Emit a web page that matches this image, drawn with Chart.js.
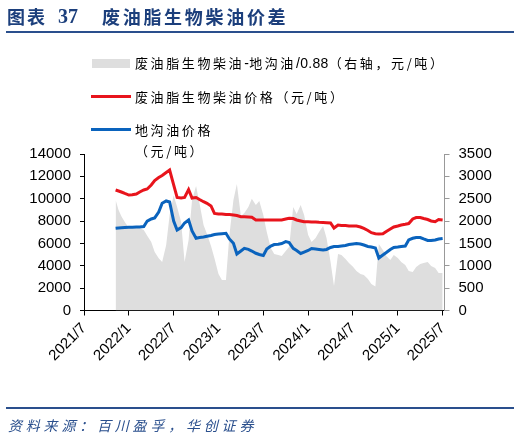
<!DOCTYPE html>
<html>
<head>
<meta charset="utf-8">
<script src="https://cdn.jsdelivr.net/npm/chart.js@4.4.1/dist/chart.umd.min.js"></script>
<style>
body{margin:0;background:#fff}
#wrap{position:relative;width:520px;height:439px;overflow:hidden;font-family:"Noto Sans CJK SC","Noto Sans",sans-serif}
#myChart{position:absolute;left:0;top:0}
.t{position:absolute;white-space:nowrap}
.title{color:#1c3f7c;font-weight:bold;font-size:18px;line-height:20px;top:6px}
.rule{position:absolute;left:6px;width:508px;height:2px;background:#2a4f8d}
.lg{font-size:13px;letter-spacing:2.6px;color:#000;line-height:16px}
.lat{font-family:"Liberation Sans",Arial,sans-serif;font-size:14px;letter-spacing:0.3px}
.src{color:#2a4f8d;font-style:italic;font-size:14px;letter-spacing:3.8px;line-height:18px;left:8px;top:416px}
</style>
</head>
<body>
<div id="wrap">
  <canvas id="myChart" width="520" height="439"></canvas>
  <div class="t title" style="left:7px;letter-spacing:2px">图表</div>
  <div class="t title" style="left:58px;font-family:'Liberation Serif',serif;font-size:20px">37</div>
  <div class="t title" style="left:102px;letter-spacing:2.7px">废油脂生物柴油价差</div>
  <div class="rule" style="top:31px"></div>

  <div class="t" style="left:92px;top:59px;width:38px;height:9px;background:#dedede"></div>
  <div class="t lg" style="left:135px;top:55px">废油脂生物柴油<span class="lat">-</span>地沟油<span class="lat">/0.88</span>（右轴，元/吨）</div>
  <div class="t" style="left:91px;top:95px;width:40px;height:3px;background:#e8141c"></div>
  <div class="t lg" style="left:135px;top:89px">废油脂生物柴油价格（元/吨）</div>
  <div class="t" style="left:91px;top:128px;width:40px;height:3px;background:#0a63bd"></div>
  <div class="t lg" style="left:135px;top:122px">地沟油价格</div>
  <div class="t lg" style="left:135px;top:143px">（元/吨）</div>

  <div class="rule" style="top:407px"></div>
  <div class="t src">资料来源：百川盈孚，华创证券</div>
</div>
<script>
const tickLabels=["2021/7","2022/1","2022/7","2023/1","2023/7","2024/1","2024/7","2025/1","2025/7"]

const dates=["2021-11-08","2021-11-20","2021-12-01","2021-12-15",
"2022-01-01","2022-01-15","2022-02-01","2022-02-15","2022-03-01","2022-03-15","2022-04-01","2022-04-15",
"2022-05-01","2022-05-15","2022-06-01","2022-06-15","2022-07-01","2022-07-15","2022-08-01","2022-08-15",
"2022-09-01","2022-09-15","2022-10-01","2022-10-15","2022-11-01","2022-11-15","2022-12-01","2022-12-15",
"2023-01-01","2023-01-15","2023-02-01","2023-02-15","2023-03-01","2023-03-15","2023-04-01","2023-04-15",
"2023-05-01","2023-05-15","2023-06-01","2023-06-15","2023-07-01","2023-07-15","2023-08-01","2023-08-15",
"2023-09-01","2023-09-15","2023-10-01","2023-10-15","2023-11-01","2023-11-15","2023-12-01","2023-12-15",
"2024-01-01","2024-01-15","2024-02-01","2024-02-15","2024-03-01","2024-03-15","2024-04-01","2024-04-15",
"2024-05-01","2024-05-15","2024-06-01","2024-06-15","2024-07-01","2024-07-15","2024-08-01","2024-08-15",
"2024-09-01","2024-09-15","2024-10-01","2024-10-15","2024-11-01","2024-11-15","2024-12-01","2024-12-15",
"2025-01-01","2025-01-15","2025-02-01","2025-02-15","2025-03-01","2025-03-15","2025-04-01","2025-04-15",
"2025-05-01","2025-05-15","2025-06-01","2025-06-15","2025-07-01"]

// 废油脂生物柴油价格 (元/吨, left axis)
const biodiesel=[10780,10690,10600,10470,
10330,10350,10420,10600,10780,10870,11230,11630,
11900,12080,12350,12570,11230,10110,10060,10110,
10820,10060,10110,9930,9730,9590,9350,8680,
8630,8630,8590,8590,8540,8500,8390,8390,
8360,8340,8100,8100,8100,8100,8100,8100,
8100,8100,8190,8250,8230,8100,8010,7940,
7940,7920,7920,7890,7870,7850,7830,7380,
7650,7600,7600,7560,7560,7560,7470,7340,
7160,6960,6870,6840,6870,7070,7290,7470,
7560,7650,7710,7780,8190,8320,8320,8230,
8140,8010,7940,8140,8100]

// 地沟油价格 (元/吨, left axis)
const gutterOil=[7350,7380,7400,7420,
7440,7450,7470,7470,7510,8000,8190,8280,
8810,9590,9800,9710,8010,7200,7420,7830,
8100,7110,6460,6530,6580,6640,6710,6800,
6840,6870,6910,6400,6010,5050,5320,5560,
5470,5320,5120,5010,4920,5500,5770,5900,
5930,5990,6160,6080,5560,5370,5100,5230,
5370,5550,5500,5460,5410,5460,5640,5730,
5730,5770,5810,5900,5950,5990,5950,5860,
5730,5680,5590,4700,4970,5190,5460,5640,
5680,5730,5770,6310,6460,6530,6530,6400,
6260,6260,6310,6400,6440]

// 废油脂生物柴油-地沟油/0.88 (元/吨, right axis)
const spread=[2470,2250,2110,1980,
1845,1845,1845,1840,1800,1670,1530,1310,
1170,1085,1465,2135,2580,2315,1980,1085,
1575,2470,2785,2400,1910,1710,1440,1170,
815,680,680,1690,2470,2830,2110,2180,
2315,2500,2360,2450,2135,1755,1400,1265,
1240,1220,1330,1425,2315,2160,2360,2135,
1690,1530,1620,1755,1890,1620,1085,550,
1265,1240,1150,1060,980,885,815,795,
705,595,535,1485,1355,1220,1130,1240,
1175,1085,1015,885,860,975,1040,1060,
1085,995,950,840,840]

// months since 2021/7
function toMonths(s){
    let p=s.split("-").map(Number)
    return (p[0]-2021)*12+(p[1]-7)+(p[2]-1)/30.4
}
const xs=dates.map(toMonths)
function pts(arr){ return arr.map((v,i)=>({x:xs[i],y:v})) }

const tickFont={family:"'Liberation Sans', Arial, sans-serif",size:15}
const ctx=document.getElementById('myChart')

let chart=new Chart(ctx,{
    type:'line',
    data:{
        datasets:[{
            label:'废油脂生物柴油价格（元/吨）',
            data:pts(biodiesel),
            borderColor:'#e8141c',
            borderWidth:3,
            pointRadius:0,
            tension:0,
            fill:false,
            yAxisID:'y'
        },{
            label:'地沟油价格（元/吨）',
            data:pts(gutterOil),
            borderColor:'#0a63bd',
            borderWidth:3,
            pointRadius:0,
            tension:0,
            fill:false,
            yAxisID:'y'
        },{
            label:'废油脂生物柴油-地沟油/0.88（右轴，元/吨）',
            data:pts(spread),
            borderWidth:0,
            borderColor:'rgba(0,0,0,0)',
            backgroundColor:'#dedede',
            pointRadius:0,
            tension:0,
            fill:'origin',
            yAxisID:'y1'
        }]
    },
    options:{
        responsive:false,
        animation:false,
        layout:{padding:{top:154,left:0,right:0,bottom:0}},
        plugins:{legend:{display:false},tooltip:{enabled:false}},
        scales:{
            x:{
                type:'linear',
                min:0,
                max:48.25,
                afterBuildTicks:(s)=>{ s.ticks=tickLabels.map((l,i)=>({value:i*6})) },
                afterFit:(s)=>{ s.height=439-310.5 },
                ticks:{
                    callback:(v)=>tickLabels[Math.round(v/6)],
                    font:tickFont,
                    color:'#000',
                    maxRotation:45,
                    minRotation:45,
                    padding:4,
                    autoSkip:false
                },
                grid:{drawOnChartArea:false,drawTicks:true,tickLength:5,color:'#000'},
                border:{display:true,color:'#000',width:1}
            },
            y:{
                position:'left',
                min:0,
                max:14000,
                afterFit:(s)=>{ s.width=84 },
                ticks:{stepSize:2000,font:tickFont,color:'#000',padding:9,callback:(v)=>String(v)},
                grid:{drawOnChartArea:false,drawTicks:true,tickLength:4,color:'#000'},
                border:{display:true,color:'#000',width:1}
            },
            y1:{
                position:'right',
                min:0,
                max:3500,
                afterFit:(s)=>{ s.width=520-444.5 },
                ticks:{stepSize:500,font:tickFont,color:'#000',padding:9,callback:(v)=>String(v)},
                grid:{drawOnChartArea:false,drawTicks:true,tickLength:5,color:'#999'},
                border:{display:true,color:'#999',width:1}
            }
        }
    }
})
</script>
</body>
</html>
